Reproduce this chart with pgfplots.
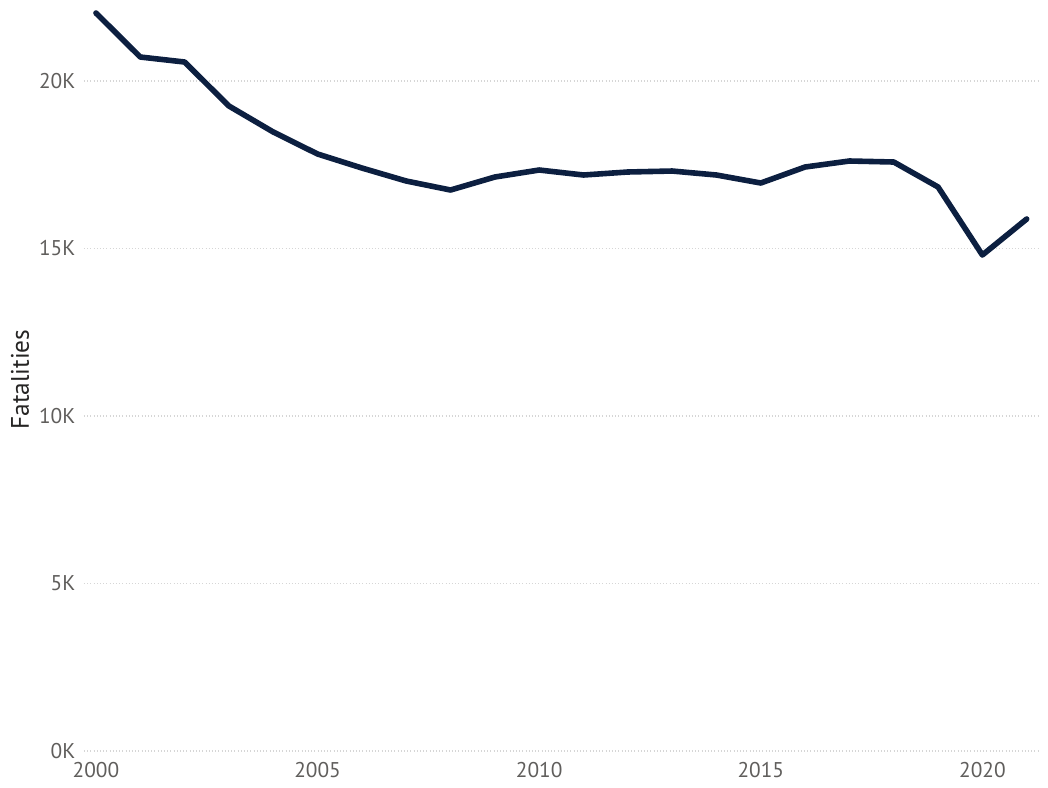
\documentclass[border=0pt]{standalone}
\usepackage{fontspec}
\setmainfont{PT Sans}
\usepackage{pgfplots}
\pgfplotsset{compat=1.18}
\definecolor{navy}{HTML}{0C1F40}
\definecolor{ticktxt}{HTML}{605E5C}
\definecolor{labtxt}{HTML}{252423}
\definecolor{gridc}{HTML}{D6D6D6}
\begin{document}
\begin{tikzpicture}
\begin{axis}[
    scale only axis,
    width=717pt, height=557.25pt,
    xmin=1999.73, xmax=2021.3,
    ymin=0, ymax=22180,
    axis line style={draw=none},
    clip=false,
    xtick={2000,2005,2010,2015,2020},
    xticklabels={2000,2005,2010,2015,2020},
    ytick={0,5000,10000,15000,20000},
    yticklabels={0K,5K,10K,15K,20K},
    ymajorgrids,
    grid style={gridc, dotted, line width=0.8pt},
    major tick length=0pt,
    tick label style={font=\fontsize{16}{19}\selectfont, text=ticktxt},
    xticklabel style={yshift=-5pt},
    yticklabel style={xshift=-3pt},
    ylabel={Fatalities},
    ylabel style={font=\fontsize{19}{22}\selectfont, text=labtxt,
        at={(rel axis cs:0,0.5)}, anchor=center, yshift=48pt},
]
\coordinate (bl) at (rel axis cs:0,0);
\coordinate (tr) at (rel axis cs:1,1);
\addplot[navy, line width=4.2pt, line join=round, line cap=round] coordinates {
(2000,22030) (2001,20716) (2002,20567) (2003,19254) (2004,18478)
(2005,17821) (2006,17403) (2007,17015) (2008,16746) (2009,17134)
(2010,17343) (2011,17194) (2012,17284) (2013,17313) (2014,17194)
(2015,16955) (2016,17433) (2017,17612) (2018,17582) (2019,16836)
(2020,14806) (2021,15881)
};
\end{axis}
\pgfresetboundingbox
\path[use as bounding box] ([xshift=-63pt,yshift=-27.75pt]bl) rectangle ([xshift=6pt,yshift=6pt]tr);
\end{tikzpicture}
\end{document}
